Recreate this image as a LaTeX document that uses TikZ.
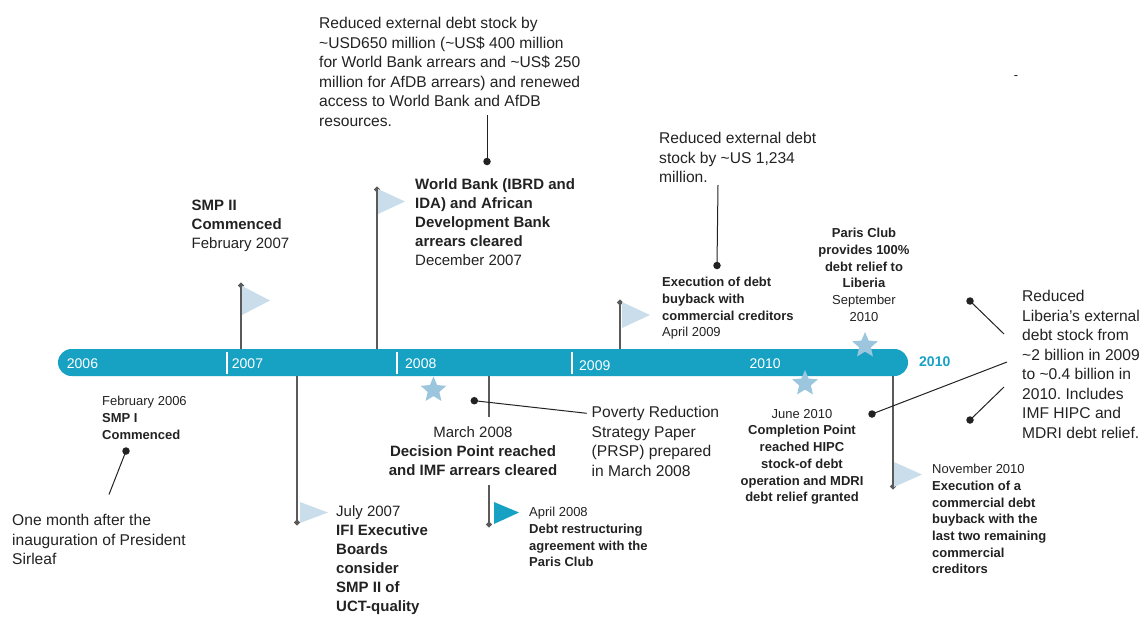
\documentclass[tikz,border=0pt]{standalone}
\usepackage{fontspec}
\setmainfont{Liberation Sans}
\usetikzlibrary{shapes.geometric,arrows.meta}
\frenchspacing

\definecolor{barteal}{HTML}{17A2C4}
\definecolor{flagblue}{HTML}{C9DEEA}
\definecolor{starblue}{HTML}{9CC6DE}
\definecolor{polegray}{HTML}{5A5A5A}
\definecolor{ink}{HTML}{222222}

\newcommand\txtbody{\fontsize{15.6}{19.5}\selectfont}
\newcommand\txtmid{\fontsize{15}{19.1}\selectfont}
\newcommand\txtsmall{\fontsize{13}{16.7}\selectfont}
\newcommand\tld{\textasciitilde}

\tikzset{
  txt/.style={inner sep=0pt, anchor=north west, align=left, text=ink},
  ctxt/.style={txt, anchor=north, align=center},
  year/.style={inner sep=0pt, anchor=base west, text=white, font=\fontsize{14}{16}\selectfont},
  pole/.style={draw=polegray, line width=2.6pt, -{Circle[length=5pt,width=5pt]}},
  flag/.style={fill=flagblue},
  starmark/.style={star, star points=5, star point ratio=2.2, minimum size=27pt, inner sep=0pt, fill=starblue},
  dot/.style={circle, fill=ink, inner sep=0pt, minimum size=7.5pt},
  callout/.style={draw=ink, line width=1pt},
}

\begin{document}
\begin{tikzpicture}[x=1pt,y=-1pt]
  \useasboundingbox (0,0) rectangle (1146,616);

  % Timeline bar
  \node[fill=barteal, rounded corners=13.5pt, minimum width=850pt, minimum height=27pt, inner sep=0pt] (bar) at (483,362.5) {};
  \draw[white, line width=1.2pt] (227,352) -- (227,374);
  \draw[white, line width=1.2pt] (397,352) -- (397,374);
  \draw[white, line width=1.2pt] (572,352) -- (572,374);
  \node[year] (y2006) at (66.7,368.3) {2006};
  \node[year] (y2007) at (231.7,368.3) {2007};
  \node[year] (y2008) at (405,368.3) {2008};
  \node[year] (y2009) at (579,370) {2009};
  \node[year] (y2010) at (749.3,368.3) {2010};
  \node[year, text=barteal, font=\fontsize{14}{16}\selectfont\bfseries] (y2010end) at (919,366.7) {2010};

  % Poles above the bar
  \coordinate (smp2top) at (241,283);
  \coordinate (wbtop) at (377,187);
  \coordinate (buytop) at (620,300);
  \draw[pole] (bar.north -| smp2top) -- (smp2top);
  \draw[pole] (bar.north -| wbtop) -- (wbtop);
  \draw[pole] (bar.north -| buytop) -- (buytop);

  % Poles below the bar
  \coordinate (julend) at (297,525);
  \coordinate (mara) at (489,417);
  \coordinate (marb) at (489,485);
  \coordinate (marend) at (489,527);
  \coordinate (novend) at (893,489);
  \draw[pole] (bar.south -| julend) -- (julend);
  \draw[pole, -] (bar.south -| mara) -- (mara);
  \draw[pole] (marb) -- (marend);
  \draw[pole] (bar.south -| novend) -- (novend);

  % Flags
  \fill[flag] (242,286) -- (270,300.5) -- (242,315) -- cycle;
  \fill[flag] (378,189) -- (405,201.5) -- (378,214) -- cycle;
  \fill[flag] (622,302) -- (650,315) -- (622,328) -- cycle;
  \fill[flag] (300,502) -- (328,512.5) -- (300,523) -- cycle;
  \fill[barteal] (494,502) -- (519,512.5) -- (494,524) -- cycle;
  \fill[flag] (894,462) -- (922,474.5) -- (894,487) -- cycle;

  % Stars
  \node[starmark] (s2008) at (433.5,390) {};
  \node[starmark] (sjun10) at (805,383.5) {};
  \node[starmark] (ssep10) at (865,345.5) {};

  % Texts above
  \node[txt, font=\txtbody] (wbnote) at (319,17) {Reduced external debt stock by\\
    \tld USD650 million (\tld US\$ 400 million\\
    for World Bank arrears and \tld US\$ 250\\
    million for AfDB arrears) and renewed\\
    access to World Bank and AfDB\\
    resources.};
  \node[txt, font=\txtmid] (smp2) at (191.5,200) {\textbf{SMP II}\\ \textbf{Commenced}\\ February 2007};
  \node[txt, font=\txtmid] (wbclear) at (415,178) {\textbf{World Bank (IBRD and}\\
    \textbf{IDA) and African}\\ \textbf{Development Bank}\\ \textbf{arrears cleared}\\ December 2007};
  \node[txt, font=\txtbody] (buynote) at (659,132) {Reduced external debt\\ stock by \tld US 1,234\\ million.};
  \node[txt, font=\txtsmall] (buy09) at (662,277) {\textbf{Execution of debt}\\ \textbf{buyback with}\\
    \textbf{commercial creditors}\\ April 2009};
  \node[ctxt, font=\txtsmall] (paris) at (864,228) {\textbf{Paris Club}\\ \textbf{provides 100\%}\\
    \textbf{debt relief to}\\ \textbf{Liberia}\\ September\\ 2010};
  \node[inner sep=0pt, text=ink, font=\txtsmall] (dash) at (1016,78) {-};

  % Texts below
  \node[txt, font=\txtsmall] (smp1) at (102,396) {February 2006\\ \textbf{SMP I}\\ \textbf{Commenced}};
  \node[txt, font=\txtbody] (inaug) at (12,514) {One month after the\\ inauguration of President\\ Sirleaf};
  \node[txt, font=\txtmid] (jul07) at (336,505) {July 2007\\ \textbf{IFI Executive}\\ \textbf{Boards}\\
    \textbf{consider}\\ \textbf{SMP II of}\\ \textbf{UCT-quality}};
  \node[ctxt, font=\txtmid] (mar08) at (473,426) {March 2008\\ \textbf{Decision Point reached}\\
    \textbf{and IMF arrears cleared}};
  \node[txt, font=\txtbody] (prsp) at (591.5,406) {Poverty Reduction\\ Strategy Paper\\ (PRSP) prepared\\ in March 2008};
  \node[txt, font=\txtsmall] (apr08) at (529,507) {April 2008\\ \textbf{Debt restructuring}\\
    \textbf{agreement with the}\\ \textbf{Paris Club}};
  \node[ctxt, font=\txtsmall] (jun10) at (802,409) {June 2010\\ \textbf{Completion Point}\\
    \textbf{reached HIPC}\\ \textbf{stock-of debt}\\ \textbf{operation and MDRI}\\ \textbf{debt relief granted}};
  \node[txt, font=\txtsmall] (nov10) at (932,464) {November 2010\\ \textbf{Execution of a}\\
    \textbf{commercial debt}\\ \textbf{buyback with the}\\ \textbf{last two remaining}\\
    \textbf{commercial}\\ \textbf{creditors}};
  \node[txt, font=\txtbody] (libnote) at (1022,290) {Reduced\\ Liberia’s external\\ debt stock from\\
    \tld 2 billion in 2009\\ to \tld 0.4 billion in\\ 2010. Includes\\ IMF HIPC and\\ MDRI debt relief.};

  % Callouts
  \node[dot] (wbdot) at (487,161.5) {};
  \node[dot] (buydot) at (717,265.5) {};
  \node[dot] (smp1dot) at (126,451) {};
  \node[dot] (prspdot) at (474.3,400.7) {};
  \node[dot] (jundot) at (872,414) {};
  \node[dot] (libdota) at (970,301) {};
  \node[dot] (libdotb) at (970,420) {};
  \coordinate (wbend) at (487,115);
  \coordinate (buyend) at (718,185);
  \coordinate (smp1end) at (109,494.5);
  \coordinate (prspend) at (586.7,413.3);
  \coordinate (junend) at (1007,362);
  \coordinate (libenda) at (1004,334);
  \coordinate (libendb) at (1004,387);
  \draw[callout] (wbdot.center) -- (wbend);
  \draw[callout] (buydot.center) -- (buyend);
  \draw[callout] (smp1dot.center) -- (smp1end);
  \draw[callout] (prspdot.center) -- (prspend);
  \draw[callout] (jundot.center) -- (junend);
  \draw[callout] (libdota.center) -- (libenda);
  \draw[callout] (libdotb.center) -- (libendb);
\end{tikzpicture}
\end{document}
